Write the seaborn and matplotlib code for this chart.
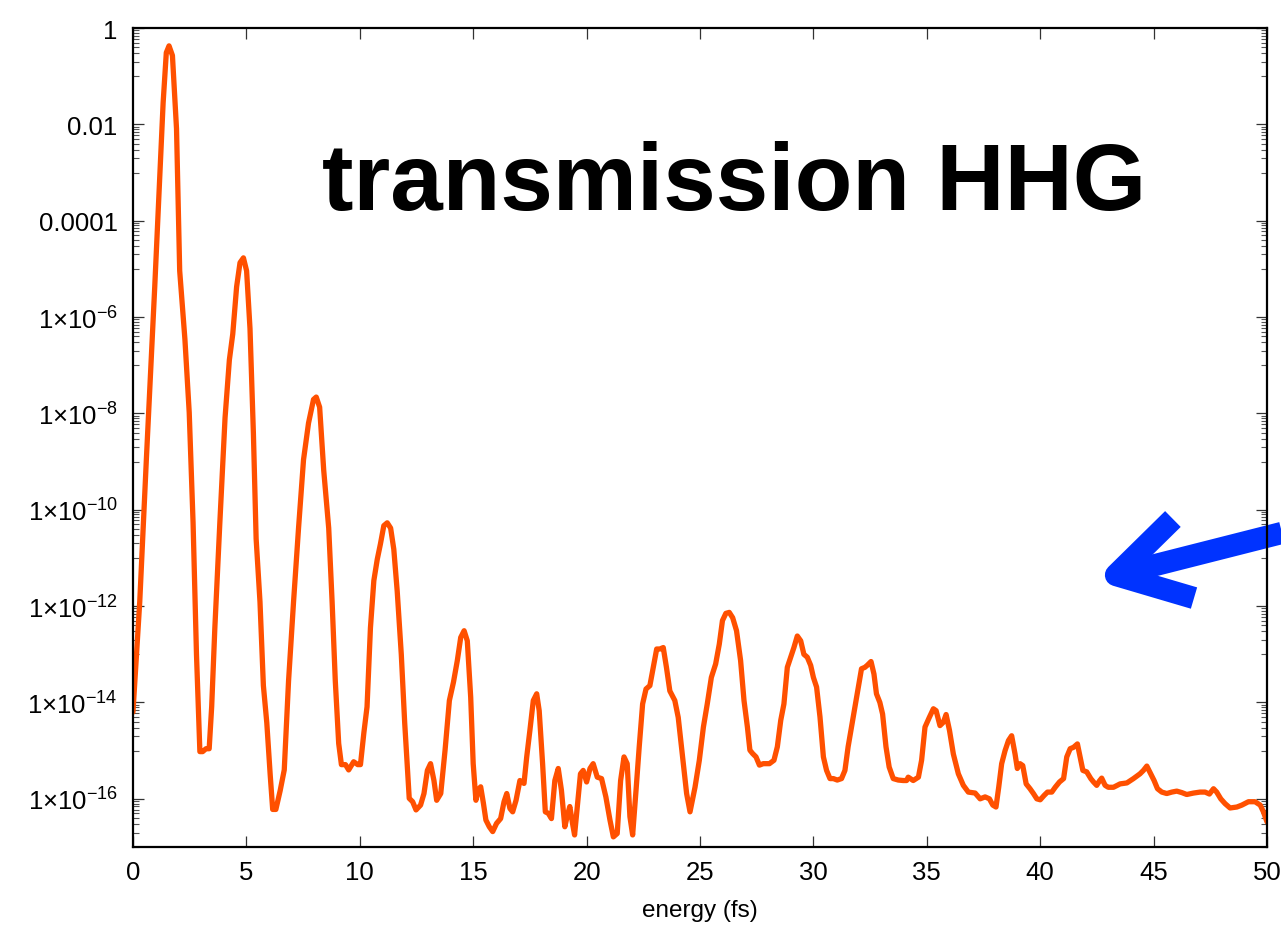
import numpy as np
import matplotlib
matplotlib.use("Agg")
import matplotlib.pyplot as plt
import matplotlib.ticker as mticker
import seaborn as sns

# Harmonic spectrum: photon energy and log10 of transmitted intensity
energy = [
    0.0, 0.3, 0.59, 0.96, 1.33, 1.47, 1.59, 1.74, 1.92, 2.06, 2.29, 2.48, 2.65, 2.8,
    2.95, 3.07, 3.22, 3.36, 3.47, 3.61, 3.83, 4.06, 4.25, 4.4, 4.57, 4.72, 4.87, 5.01,
    5.16, 5.31, 5.43, 5.6, 5.75, 5.9, 6.05, 6.16, 6.3, 6.49, 6.67, 6.86, 7.08, 7.3,
    7.52, 7.74, 7.96, 8.08, 8.23, 8.41, 8.63, 8.78, 8.92, 9.07, 9.19, 9.37, 9.51, 9.73,
    9.91, 10.03, 10.18, 10.32, 10.47, 10.62, 10.77, 10.91, 11.06, 11.21, 11.36, 11.5,
    11.65, 11.83, 11.98,
    12.18, 12.33, 12.48, 12.68, 12.83, 12.98, 13.12, 13.27, 13.39, 13.57, 13.76, 13.95,
    14.13, 14.3, 14.45, 14.6, 14.74, 14.89, 15.0, 15.12, 15.22, 15.33, 15.45, 15.56,
    15.71, 15.86, 16.03, 16.21, 16.36, 16.48, 16.62, 16.74, 16.89, 17.06, 17.24, 17.36,
    17.5, 17.65, 17.8, 17.91, 18.06, 18.18, 18.31, 18.45, 18.6, 18.75, 18.89, 19.04,
    19.14, 19.26, 19.38, 19.47, 19.59, 19.73, 19.85, 20.0, 20.15, 20.29, 20.47, 20.66,
    20.85, 21.03, 21.18, 21.35, 21.5, 21.65, 21.79, 21.91, 22.03, 22.18, 22.32, 22.47,
    22.62, 22.79, 22.94, 23.09, 23.23, 23.38, 23.52, 23.67, 23.89, 24.04, 24.23, 24.41,
    24.56,
    24.78, 24.97, 25.15, 25.32, 25.5, 25.69, 25.85, 25.99, 26.14, 26.29, 26.44, 26.61,
    26.79, 26.94, 27.09, 27.2, 27.32, 27.47, 27.62, 27.79, 28.06, 28.26, 28.41, 28.56,
    28.7, 28.85, 29.0, 29.14, 29.29, 29.44, 29.58, 29.73, 29.88, 30.0, 30.14, 30.29,
    30.44, 30.58, 30.73, 30.88, 31.05, 31.24, 31.39, 31.53, 31.68, 31.83, 31.98, 32.12,
    32.27, 32.37, 32.54, 32.67, 32.78, 32.93, 33.05, 33.2, 33.34, 33.52, 33.74,
    33.96, 34.11, 34.18, 34.4, 34.63, 34.77, 34.92, 35.11, 35.29, 35.41, 35.58, 35.73,
    35.85, 36.0, 36.17, 36.39, 36.61, 36.83, 37.13, 37.35, 37.57, 37.76, 37.91, 38.05,
    38.17, 38.3, 38.45, 38.6, 38.74, 38.89, 38.99, 39.11, 39.23, 39.38, 39.55, 39.7,
    39.85, 40.0, 40.17, 40.32, 40.51, 40.66, 40.85, 41.03, 41.17, 41.32, 41.47, 41.64,
    41.76, 41.88, 42.05, 42.23, 42.35, 42.49, 42.61, 42.71, 42.86, 43.0, 43.23, 43.52,
    43.82, 44.11, 44.4, 44.55, 44.7, 44.87, 45.02, 45.17, 45.36, 45.58, 45.8, 46.02,
    46.24, 46.46, 46.76, 47.05, 47.27, 47.46, 47.64, 47.78, 47.96, 48.15, 48.37, 48.67,
    48.89, 49.18, 49.47, 49.7, 49.84, 50.0,
]

log_intensity = [
    -14.2, -11.9, -8.96, -5.37, -1.55, -0.51, -0.37, -0.57, -2.09, -5.04, -6.46, -7.98,
    -10.27, -13.0, -15.02, -15.02, -14.96, -14.96, -14.09, -12.45, -10.27, -8.09, -6.89,
    -6.35, -5.37, -4.87, -4.77, -5.04, -6.24, -8.42, -10.6, -11.91, -13.65, -14.42,
    -15.5, -16.22, -16.22, -15.83, -15.4, -13.55, -11.91, -10.38, -8.96, -8.2, -7.71,
    -7.66, -7.87, -9.18, -10.38, -11.91, -13.55, -14.85, -15.29, -15.29, -15.4, -15.23,
    -15.29, -15.29, -14.63, -14.09, -12.45, -11.47, -11.03, -10.71, -10.33, -10.27,
    -10.38, -10.82, -11.69, -13.0, -14.42,
    -15.99, -16.06, -16.23, -16.13, -15.89, -15.41, -15.27, -15.62, -16.03, -15.89,
    -14.99, -13.96, -13.58, -13.13, -12.65, -12.51, -12.72, -13.89, -15.27, -16.03,
    -15.82, -15.75, -16.09, -16.44, -16.58, -16.68, -16.51, -16.41, -16.06, -15.89,
    -16.2, -16.27, -16.03, -15.62, -15.68, -15.13, -14.58, -13.96, -13.82, -14.17,
    -15.27, -16.27, -16.3, -16.41, -15.62, -15.37, -15.82, -16.58, -16.37, -16.16,
    -16.51, -16.75, -16.16, -15.48, -15.41, -15.65, -15.37, -15.27, -15.55, -15.58,
    -15.96, -16.44, -16.79, -16.72, -15.62, -15.13, -15.27, -16.37, -16.75, -15.82,
    -14.92, -14.03, -13.72, -13.65, -13.27, -12.89, -12.89, -12.86, -13.27, -13.76,
    -13.96, -14.31, -15.13, -15.89, -16.27,
    -15.76, -15.2, -14.51, -14.03, -13.48, -13.2, -12.79, -12.3, -12.15, -12.13, -12.24,
    -12.51, -13.13, -13.96, -14.51, -14.99, -15.06, -15.13, -15.3, -15.27, -15.27,
    -15.2, -14.92, -14.37, -14.03, -13.27, -13.06, -12.86, -12.62, -12.72, -13.0,
    -13.06, -13.23, -13.48, -13.68, -14.3, -15.13, -15.41, -15.58, -15.58, -15.61,
    -15.58, -15.41, -14.92, -14.51, -14.1, -13.68, -13.3, -13.27, -13.23, -13.15,
    -13.41, -13.82, -14.0, -14.24, -14.92, -15.34, -15.58, -15.61,
    -15.62, -15.62, -15.55, -15.62, -15.55, -15.2, -14.51, -14.31, -14.13, -14.17,
    -14.48, -14.41, -14.25, -14.58, -15.07, -15.48, -15.72, -15.86, -15.88, -16.0,
    -15.96, -16.0, -16.13, -16.17, -15.76, -15.27, -15.0, -14.79, -14.69, -15.07,
    -15.37, -15.27, -15.31, -15.69, -15.79, -15.89, -16.0, -16.02, -15.93, -15.86,
    -15.86, -15.76, -15.65, -15.58, -15.13, -14.96, -14.93, -14.86, -15.13, -15.41,
    -15.44, -15.58, -15.65, -15.72, -15.63, -15.57, -15.72, -15.76, -15.76, -15.69,
    -15.67, -15.58, -15.48, -15.41, -15.32, -15.48, -15.62, -15.79, -15.86, -15.89,
    -15.86, -15.84, -15.87, -15.91, -15.88, -15.86, -15.86, -15.9, -15.79, -15.86,
    -16.0, -16.1, -16.19, -16.17, -16.13, -16.06, -16.06, -16.13, -16.27, -16.48,
]

x_ticks = [0, 5, 10, 15, 20, 25, 30, 35, 40, 45, 50]
y_exponents = [0, -2, -4, -6, -8, -10, -12, -14, -16]
y_tick_labels = ["1", "0.01", "0.0001", "1×10$^{-6}$", "1×10$^{-8}$", "1×10$^{-10}$",
                 "1×10$^{-12}$", "1×10$^{-14}$", "1×10$^{-16}$"]

title_text = "transmission HHG"
x_label = "energy (fs)"

sns.set_theme(style="ticks")
plt.rcParams["font.family"] = ["Liberation Sans", "DejaVu Sans"]
plt.rcParams["mathtext.fontset"] = "custom"
plt.rcParams["mathtext.rm"] = "Liberation Sans"
plt.rcParams["mathtext.it"] = "Liberation Sans"
plt.rcParams["mathtext.default"] = "regular"

intensity = 10.0 ** np.array(log_intensity)

fig = plt.figure(figsize=(12.81, 9.28), dpi=100)
ax = fig.add_axes([0.1038, 0.0862, 0.8853, 0.8825])

sns.lineplot(x=energy, y=intensity, ax=ax, color="#FF5000", linewidth=3.8,
             estimator=None, sort=False, solid_joinstyle="round")

ax.set_yscale("log")
ax.set_xlim(0, 50)
ax.set_ylim(1e-17, 1)

# major y ticks every two decades, minor ticks spanning the decade below each
ax.yaxis.set_major_locator(mticker.FixedLocator([10.0 ** e for e in y_exponents]))
ax.yaxis.set_major_formatter(mticker.FixedFormatter(y_tick_labels))
minor_pos = [k * 10.0 ** (e - 1) for e in y_exponents for k in range(1, 10)]
minor_pos = [v for v in minor_pos if 1e-17 <= v <= 1]
ax.yaxis.set_minor_locator(mticker.FixedLocator(minor_pos))
ax.yaxis.set_minor_formatter(mticker.NullFormatter())

ax.xaxis.set_major_locator(mticker.FixedLocator(x_ticks))
ax.xaxis.set_minor_locator(mticker.NullLocator())

ax.tick_params(axis="both", which="major", direction="in", length=8, width=0.9,
               color="#333333", labelsize=18.5, labelcolor="black",
               top=True, right=True)
ax.tick_params(axis="y", which="minor", direction="in", length=4.5, width=0.8,
               color="#555555", left=True, right=True)
ax.tick_params(axis="y", which="major", pad=11)
ax.tick_params(axis="x", which="major", pad=9)

for side in ax.spines.values():
    side.set_linewidth(1.6)
    side.set_color("black")

ax.set_xlabel(x_label, fontsize=17.5, labelpad=11, color="black")
ax.set_ylabel("")

ax.text(0.1667, 0.779, title_text, transform=ax.transAxes, fontsize=68,
        fontweight="bold", color="black", ha="left", va="baseline")

# blue pointer arrow entering from the right edge
arrow_kw = dict(transform=ax.transAxes, color="#0033FF", linewidth=16,
                clip_on=False, solid_capstyle="butt", solid_joinstyle="round")
ax.plot([0.917, 0.8668, 0.9356], [0.4005, 0.3321, 0.304], **arrow_kw)
ax.plot([0.8668, 1.06], [0.3321, 0.400], **arrow_kw)

fig.savefig("out.png", dpi=100)
